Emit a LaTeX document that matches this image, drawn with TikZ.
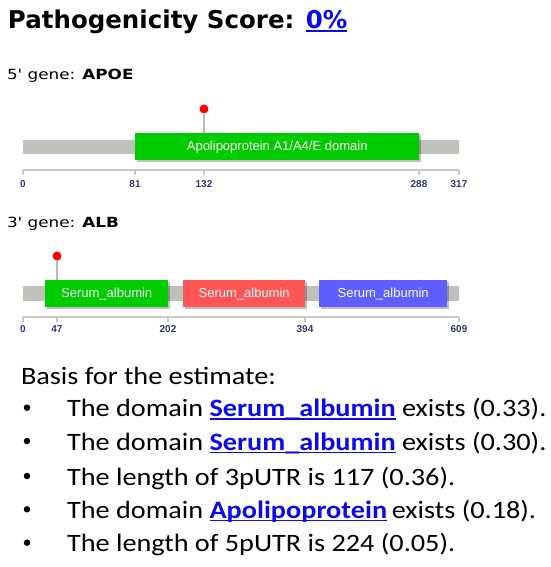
\documentclass[tikz,border=0pt]{standalone}
\usepackage{graphicx}
\usepackage{fontspec}
\setmainfont{Carlito}
\newfontfamily\verd[Ligatures=TeXOff]{DejaVu Sans}
\newfontfamily\arial{Liberation Sans}
\usetikzlibrary{shadows}
\definecolor{linkblue}{RGB}{10,10,235}
\definecolor{bargrey}{RGB}{190,192,186}
\definecolor{axisgrey}{RGB}{200,200,200}
\definecolor{stalkgrey}{RGB}{185,185,185}
\definecolor{domgreen}{RGB}{0,204,0}
\definecolor{domred}{RGB}{255,85,85}
\definecolor{domblue}{RGB}{95,95,255}
\definecolor{ticktext}{RGB}{50,55,105}
\newcommand\lnk[1]{\textcolor{linkblue}{\bfseries\setbox0\hbox{#1}\rlap{\rule[-3pt]{\wd0}{1.3pt}}\box0}}
\newcommand\lnkT[1]{\textcolor{linkblue}{\setbox0\hbox{#1}\rlap{\rule[-3pt]{\wd0}{2pt}}\box0}}
\newcommand\wide[1]{\scalebox{1.13}[1]{#1}}
\newcommand\gwide[1]{\scalebox{1.2}[1]{#1}}
\begin{document}
\begin{tikzpicture}[x=1pt,y=-1pt,
  txt/.style={anchor=base west, inner sep=0pt, outer sep=0pt},
  genebar/.style={fill=bargrey, draw=none, anchor=north west, inner sep=0pt, minimum height=14pt},
  dom/.style={draw=none, anchor=north west, inner sep=0pt, minimum height=27pt, text=white,
     font=\arial\fontsize{13}{15}\selectfont,
     drop shadow={shadow xshift=1.5pt, shadow yshift=-1.5pt, opacity=0.25, fill=black}},
  mdot/.style={circle, fill=red, draw=none, inner sep=0pt, minimum size=9pt},
  stalk/.style={draw=stalkgrey, line width=2pt},
  axisline/.style={draw=axisgrey, line width=2pt},
  tickmark/.style={draw=axisgrey, line width=1.5pt},
  ticklab/.style={anchor=base, inner sep=0pt, text=ticktext, font=\arial\bfseries\fontsize{10}{12}\selectfont},
  bul/.style={circle, fill=black, draw=none, inner sep=0pt, minimum size=6.5pt},
  lines/.style={txt, font=\fontsize{25}{30}\selectfont},
  genelab/.style={txt, font=\verd\fontsize{14}{16}\selectfont}
]
\useasboundingbox (0,0) rectangle (550,567);
\fill[white] (0,0) rectangle (550,567);

% title
\node[txt] (title) at (8,29) {\verd\bfseries\fontsize{24.5}{28}\selectfont Pathogenicity Score: \lnkT{0\%}};

% 5' gene
\node[genelab] (g5) at (7,79.5) {\gwide{5' gene: \textbf{APOE}}};
\node[genebar, minimum width=436pt] (bar5) at (23,140) {};
\node[dom, fill=domgreen, minimum width=284pt] (d5) at (135,133) {Apolipoprotein A1/A4/E domain};
\node[mdot] (m5) at (204,109) {};
\draw[stalk] (m5) -- (m5 |- d5.north);
\coordinate (ax5a) at (23,170);
\coordinate (ax5b) at (459,170);
\draw[axisline] (ax5a) -- (ax5b);
\foreach \x/\l in {23/0,135/81,204/132,419/288,459/317}{
  \draw[tickmark] (\x,170) -- (\x,175);
  \node[ticklab] at (\x,187) {\l};
}

% 3' gene
\node[genelab] (g3) at (7,227) {\gwide{3' gene: \textbf{ALB}}};
\node[genebar, minimum width=436pt, minimum height=15pt] (bar3) at (23,286) {};
\node[dom, fill=domgreen, minimum width=123pt] (d3a) at (45,280) {Serum\_albumin};
\node[dom, fill=domred, minimum width=122pt] (d3b) at (183,280) {Serum\_albumin};
\node[dom, fill=domblue, minimum width=128pt] (d3c) at (319,280) {Serum\_albumin};
\node[mdot] (m3) at (57,256) {};
\draw[stalk] (m3) -- (m3 |- d3a.north);
\coordinate (ax3a) at (23,317);
\coordinate (ax3b) at (459,317);
\draw[axisline] (ax3a) -- (ax3b);
\foreach \x/\l in {23/0,57/47,168/202,305/394,459/609}{
  \draw[tickmark] (\x,317) -- (\x,322);
  \node[ticklab] at (\x,332) {\l};
}

% basis text
\node[lines] (basis) at (21,384) {\wide{Basis for the estimate:}};
\foreach \y/\n in {416.7/1,450/2,485/3,518.3/4,551.7/5}{
  \node[bul] (b\n) at (27,\y-9) {};
}
\node[lines] (l1) at (67,416.7) {\wide{The domain \lnk{Serum\_albumin} exists (0.33).}};
\node[lines] (l2) at (67,450) {\wide{The domain \lnk{Serum\_albumin} exists (0.30).}};
\node[lines] (l3) at (67,485) {\wide{The length of 3pUTR is 117 (0.36).}};
\node[lines] (l4) at (67,518.3) {\wide{The domain \lnk{Apolipoprotein}\,exists (0.18).}};
\node[lines] (l5) at (67,551.7) {\wide{The length of 5pUTR is 224 (0.05).}};
\end{tikzpicture}
\end{document}
